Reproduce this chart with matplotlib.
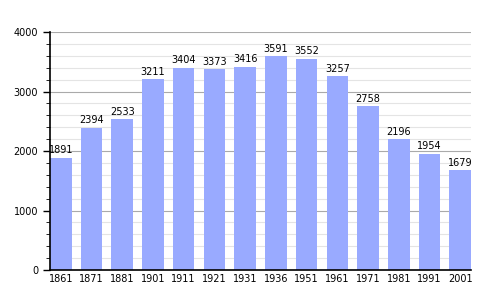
import numpy as np
from matplotlib import pyplot as plt

years = ["1861", "1871", "1881", "1901", "1911", "1921", "1931",
         "1936", "1951", "1961", "1971", "1981", "1991", "2001"]
population = [1891, 2394, 2533, 3211, 3404, 3373, 3416,
              3591, 3552, 3257, 2758, 2196, 1954, 1679]

fig = plt.figure(figsize=(5, 3), dpi=100)
ax = fig.add_axes([0.1, 0.1, 0.842, 0.793])

x = np.arange(len(years))
ax.bar(x, population, width=0.7, color="#99aaff", zorder=2)
for xi, v in zip(x, population):
    ax.text(xi, v + 40, str(v), ha="center", va="bottom", fontsize=7)

ax.set_xlim(-0.35, len(years) - 0.65)
ax.set_ylim(0, 4000)
ax.set_xticks(x)
ax.set_xticklabels(years, fontsize=7)
ax.set_yticks(np.arange(0, 4001, 1000))
ax.set_yticks(np.arange(0, 4001, 200), minor=True)
ax.tick_params(axis="y", labelsize=7, length=5, width=1)
ax.tick_params(axis="y", which="minor", length=3)
ax.tick_params(axis="x", length=0, pad=3)
ax.grid(True, axis="y", which="major", color="#aaaaaa", linewidth=0.8, zorder=0)
ax.grid(True, axis="y", which="minor", color="#e4e4e4", linewidth=0.8, zorder=0)
for s in ["top", "right"]:
    ax.spines[s].set_visible(False)
ax.spines["left"].set_linewidth(1.2)
ax.spines["bottom"].set_linewidth(1.2)
ax.set_axisbelow(True)

plt.savefig("out.png")
